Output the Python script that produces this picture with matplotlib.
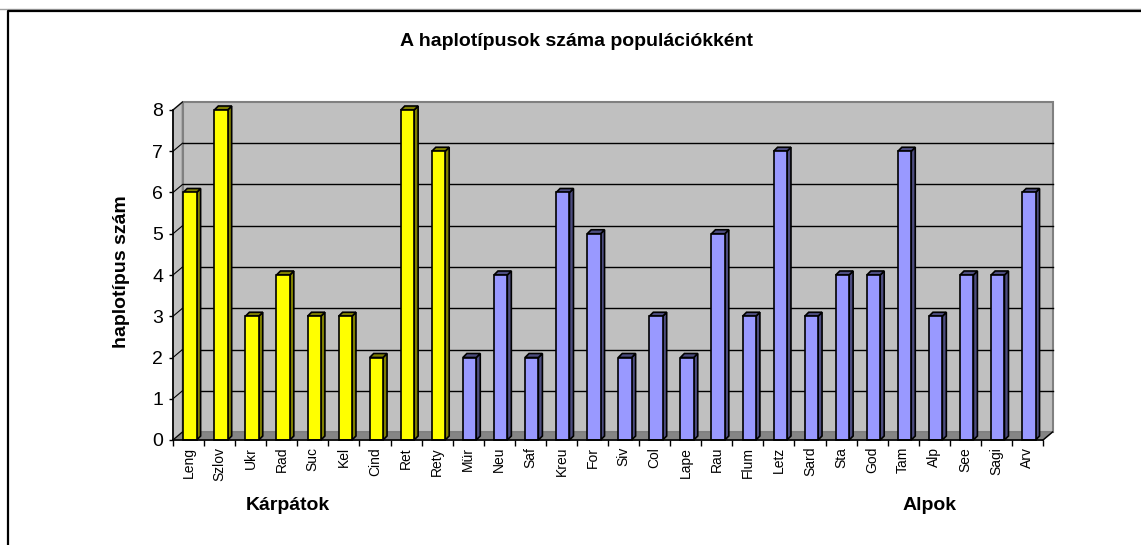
import matplotlib
matplotlib.use("Agg")
import matplotlib.pyplot as plt
from matplotlib.patches import Polygon, Rectangle
from matplotlib.lines import Line2D

plt.rcParams['font.family'] = ['Liberation Sans', 'DejaVu Sans']

# ---- data ----
title = "A haplotípusok száma populációkként"
ylabel = "haplotípus szám"
carp_names = ["Leng", "Szlov", "Ukr", "Rad", "Suc", "Kel", "Cind", "Ret", "Rety"]
carp_values = [6, 8, 3, 4, 3, 3, 2, 8, 7]
alp_names = ["Mür", "Neu", "Saf", "Kreu", "For", "Siv", "Col", "Lape", "Rau", "Flum",
             "Letz", "Sard", "Sta", "God", "Tam", "Alp", "See", "Sagi", "Arv"]
alp_values = [2, 4, 2, 6, 5, 2, 3, 2, 5, 3, 7, 3, 4, 4, 7, 3, 4, 4, 6]
group_labels = ["Kárpátok", "Alpok"]
yticks = [0, 1, 2, 3, 4, 5, 6, 7, 8]

names = carp_names + alp_names
values = carp_values + alp_values
n = len(names)

W, H = 1141, 545
fig = plt.figure(figsize=(W / 100, H / 100), dpi=100)
fig.patch.set_facecolor('white')

ax = fig.add_axes([173 / W, 105 / H, 870 / W, 330 / H])
ax.set_xlim(0, n)
ax.set_ylim(0, 8)
ax.patch.set_visible(False)

px_x = n / 870.0   # data units per pixel (x)
px_y = 8 / 330.0   # data units per pixel (y)
wdx, wdy = 9.5 * px_x, 8 * px_y     # wall depth
bdx, bdy = 4 * px_x, 4 * px_y       # bar depth

# back wall
ax.add_patch(Rectangle((wdx, wdy), n, 8, facecolor='#c0c0c0', edgecolor='#808080',
                       lw=1.5, zorder=0, clip_on=False))
# left side wall
ax.add_patch(Polygon([(0, 0), (wdx, wdy), (wdx, 8 + wdy), (0, 8)], closed=True,
                     facecolor='#c0c0c0', edgecolor='#808080', lw=1.2, zorder=0.5, clip_on=False))
# floor
ax.add_patch(Polygon([(0, 0), (n, 0), (n + wdx, wdy), (wdx, wdy)], closed=True,
                     facecolor='#858585', edgecolor='#808080', lw=1, zorder=0.5, clip_on=False))
# gridlines
for k in yticks[1:-1]:
    ax.plot([wdx, n + wdx], [k + wdy, k + wdy], color='black', lw=1, zorder=1, clip_on=False)
for k in yticks:
    ax.plot([0, wdx], [k, k + wdy], color='black', lw=0.8, zorder=1, clip_on=False)
ax.plot([n, n + wdx], [0, wdy], color='black', lw=1, zorder=1, clip_on=False)

# bars
bw = 0.43
offs = 0.33
xs = [i + offs for i in range(n)]
front_cols = ['#ffff00'] * len(carp_values) + ['#9999ff'] * len(alp_values)
side_cols = ['#808000'] * len(carp_values) + ['#4d4d80'] * len(alp_values)
ax.bar(xs, values, width=bw, align='edge', color=front_cols, edgecolor='black',
       linewidth=1.2, zorder=3, clip_on=False)
for x0, v, sc in zip(xs, values, side_cols):
    ax.add_patch(Polygon([(x0 + bw, 0), (x0 + bw + bdx, bdy), (x0 + bw + bdx, v + bdy), (x0 + bw, v)],
                         closed=True, facecolor=sc, edgecolor='black', lw=1.2, zorder=2.9, clip_on=False))
    ax.add_patch(Polygon([(x0, v), (x0 + bw, v), (x0 + bw + bdx, v + bdy), (x0 + bdx, v + bdy)],
                         closed=True, facecolor=sc, edgecolor='black', lw=1.2, zorder=2.9, clip_on=False))

# axes
for s in ['top', 'right']:
    ax.spines[s].set_visible(False)
ax.spines['left'].set_color('black')
ax.spines['bottom'].set_color('black')
ax.spines['left'].set_linewidth(1.2)
ax.spines['bottom'].set_linewidth(1.2)
ax.spines['left'].set_zorder(4)
ax.spines['bottom'].set_zorder(4)

ax.set_yticks(yticks)
ax.set_yticklabels([str(t) for t in yticks], fontsize=14)
ax.tick_params(axis='y', length=3, width=1, pad=4, direction='out')

ax.set_xticks(range(n + 1))
ax.set_xticklabels([])
ax.set_xticks([i + 0.5 for i in range(n)], minor=True)
ax.set_xticklabels(names, minor=True, rotation=90, fontsize=10)
ax.tick_params(axis='x', which='major', length=4, width=1, direction='out')
ax.tick_params(axis='x', which='minor', length=0, pad=5)

# texts
fig.text(577 / W, 1 - 41 / H, title, ha='center', va='center', fontsize=14, fontweight='bold')
fig.text(122 / W, 1 - 272 / H, ylabel, ha='center', va='center', rotation=90,
         fontsize=14, fontweight='bold')
fig.text(288 / W, 1 - 505 / H, group_labels[0], ha='center', va='center', fontsize=14, fontweight='bold')
fig.text(930 / W, 1 - 505 / H, group_labels[1], ha='center', va='center', fontsize=14, fontweight='bold')

# frame
fig.add_artist(Line2D([0, 1], [1 - 9 / H, 1 - 9 / H], color='#a0a0a0', lw=1,
                      transform=fig.transFigure))
fig.add_artist(Line2D([8 / W, 8 / W, 1], [0, 1 - 11 / H, 1 - 11 / H], color='black', lw=1.6,
                      transform=fig.transFigure))

fig.savefig('out.png', dpi=100)
